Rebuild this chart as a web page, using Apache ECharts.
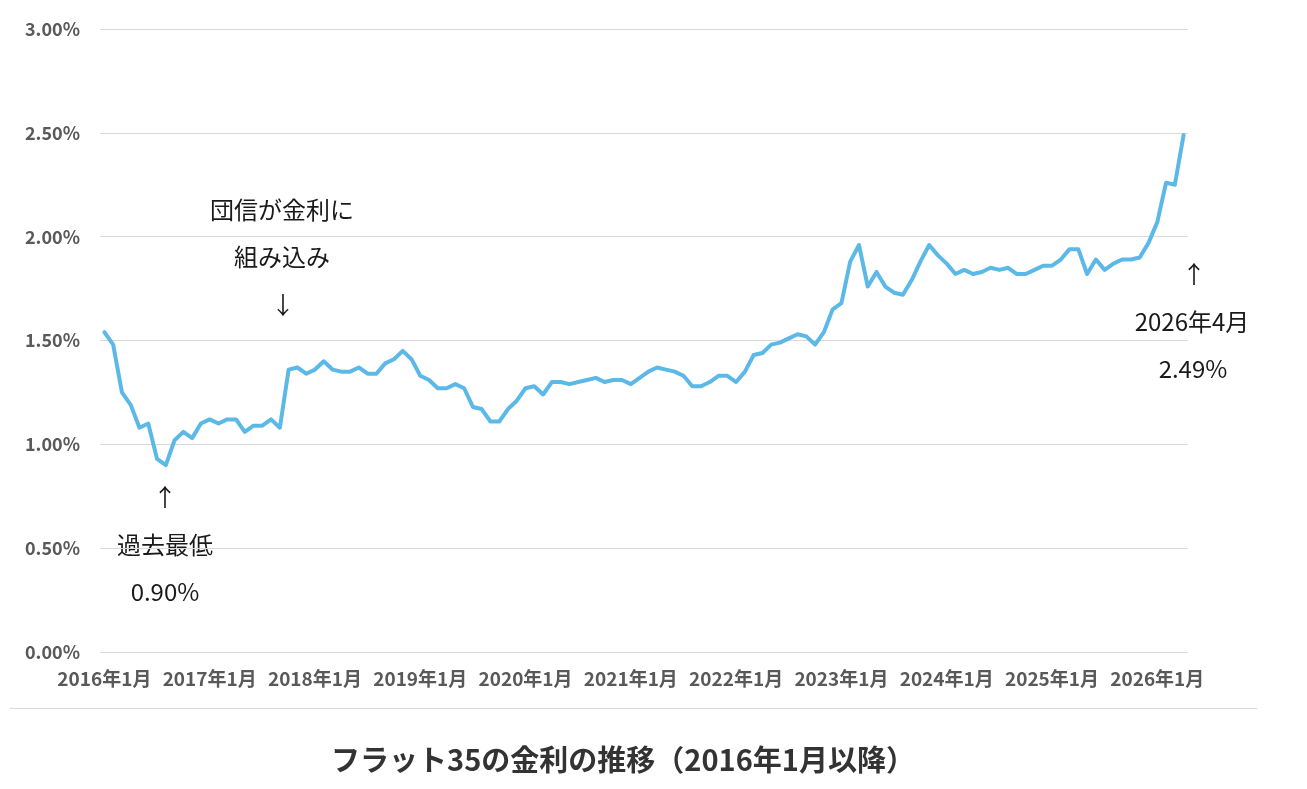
<!DOCTYPE html>
<html>
<head>
<meta charset="utf-8">
<script src="https://cdn.jsdelivr.net/npm/echarts@6/dist/echarts.min.js"></script>
<style>
html,body{margin:0;padding:0;background:#fff;}
#chart{width:1307px;height:789px;}
</style>
</head>
<body>
<div id="chart"></div>
<script>
// ---- data ----
const startYear = 2016;
const rates2016 = [1.54,1.48,1.25,1.19,1.08,1.10,0.93,0.90,1.02,1.06,1.03,1.10];
const rates2017 = [1.12,1.10,1.12,1.12,1.06,1.09,1.09,1.12,1.08,1.36,1.37,1.34];
const rates2018 = [1.36,1.40,1.36,1.35,1.35,1.37,1.34,1.34,1.39,1.41,1.45,1.41];
const rates2019 = [1.33,1.31,1.27,1.27,1.29,1.27,1.18,1.17,1.11,1.11,1.17,1.21];
const rates2020 = [1.27,1.28,1.24,1.30,1.30,1.29,1.30,1.31,1.32,1.30,1.31,1.31];
const rates2021 = [1.29,1.32,1.35,1.37,1.36,1.35,1.33,1.28,1.28,1.30,1.33,1.33];
const rates2022 = [1.30,1.35,1.43,1.44,1.48,1.49,1.51,1.53,1.52,1.48,1.54,1.65];
const rates2023 = [1.68,1.88,1.96,1.76,1.83,1.76,1.73,1.72,1.79,1.88,1.96,1.91];
const rates2024 = [1.87,1.82,1.84,1.82,1.83,1.85,1.84,1.85,1.82,1.82,1.84,1.86];
const rates2025 = [1.86,1.89,1.94,1.94,1.82,1.89,1.84,1.87,1.89,1.89,1.90,1.97];
const rates2026 = [2.07,2.26,2.25,2.49];
const yTicks = [0, 0.5, 1.0, 1.5, 2.0, 2.5, 3.0];
const titleText = 'フラット35の金利の推移（2016年1月以降）';
const noteLow = ['↑', '過去最低', '0.90%'];
const noteDanshin = ['団信が金利に', '組み込み', '↓'];
const noteLatest = ['↑', '2026年4月', '2.49%'];

const rates = [].concat(rates2016, rates2017, rates2018, rates2019, rates2020,
  rates2021, rates2022, rates2023, rates2024, rates2025, rates2026);
const categories = rates.map((_, i) =>
  (startYear + Math.floor(i / 12)) + '年' + (i % 12 + 1) + '月');

const FONT = '"Noto Sans CJK JP", "Noto Sans", sans-serif';
const chart = echarts.init(document.getElementById('chart'), null, {renderer: 'canvas'});

function textEl(str, x, y, opt) {
  return {
    type: 'text', x: x, y: y,
    style: Object.assign({
      text: str, fill: '#1a1a1a', font: 'normal 24px ' + FONT,
      align: 'center', verticalAlign: 'middle'
    }, opt || {})
  };
}

const option = {
  backgroundColor: '#ffffff',
  animation: false,
  grid: {left: 100, right: 119, top: 29, bottom: 137, containLabel: false},
  xAxis: {
    type: 'category',
    data: categories,
    boundaryGap: true,
    axisLine: {show: false},
    axisTick: {show: false},
    axisLabel: {
      interval: function (i) { return i % 12 === 0; },
      color: '#595959', fontWeight: 'bold', fontSize: 19, fontFamily: FONT,
      margin: 17
    },
    splitLine: {show: false}
  },
  yAxis: {
    type: 'value',
    min: yTicks[0], max: yTicks[yTicks.length - 1], interval: 0.5,
    axisLine: {show: false},
    axisTick: {show: false},
    axisLabel: {
      formatter: function (v) { return v.toFixed(2) + '%'; },
      color: '#595959', fontWeight: 'bold', fontSize: 18, fontFamily: FONT,
      margin: 20
    },
    splitLine: {lineStyle: {color: '#d9d9d9', width: 1}}
  },
  series: [{
    type: 'line',
    data: rates,
    symbol: 'none',
    smooth: false,
    lineStyle: {color: '#5cb9e7', width: 4, join: 'round', cap: 'round'},
    z: 3
  }],
  graphic: [
    {type: 'line', shape: {x1: 10, y1: 708.5, x2: 1257, y2: 708.5},
     style: {stroke: '#d9d9d9', lineWidth: 1}},
    textEl(titleText, 623, 760, {fill: '#333333', font: 'bold 29px ' + FONT}),
    textEl(noteLow[0], 165, 497),
    textEl(noteLow[1], 165, 545),
    textEl(noteLow[2], 165, 592),
    textEl(noteDanshin[0], 282, 210),
    textEl(noteDanshin[1], 282, 257),
    textEl(noteDanshin[2], 283, 305),
    textEl(noteLatest[0], 1194, 274),
    textEl(noteLatest[1], 1192, 322),
    textEl(noteLatest[2], 1193, 369)
  ]
};
chart.setOption(option);
</script>
</body>
</html>
